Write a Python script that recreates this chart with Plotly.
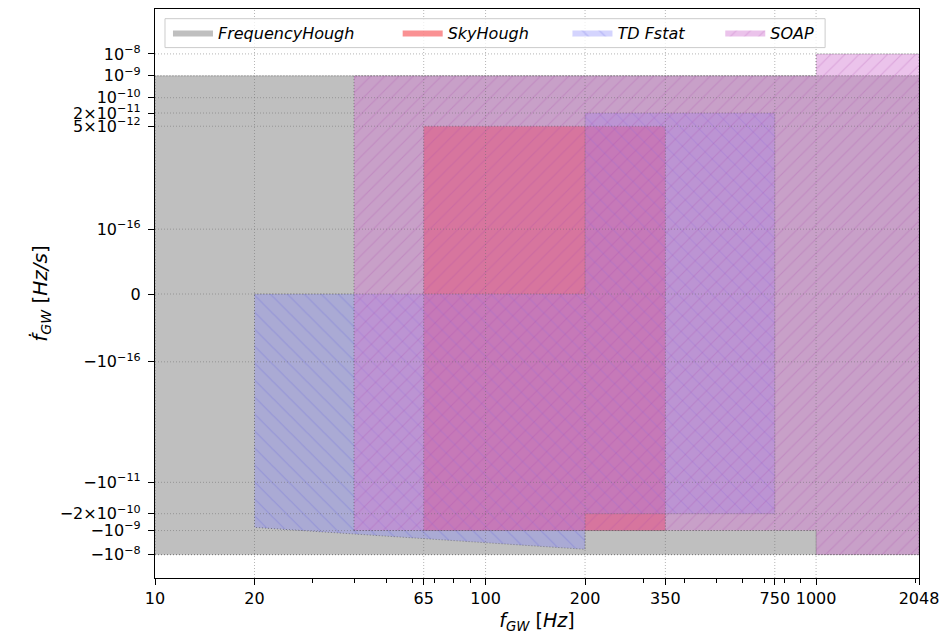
import math
import plotly.graph_objects as go

# ---------------- data ----------------
FH_F = [10, 2048, 2048, 10]
FH_FDOT = [-1e-8, -1e-8, 1e-9, 1e-9]

SKY_F = [65, 350, 350, 65]
SKY_FDOT = [-1e-9, -1e-9, 5e-12, 5e-12]

TD_F = [20, 200, 200, 750, 750, 200, 200, 20]
TD_FDOT = [0, 0, 2e-11, 2e-11, -2e-10, -2e-10, -6e-9, -7.4e-10]

SOAP_F = [40, 1000, 1000, 2048, 2048, 1000, 1000, 40]
SOAP_FDOT = [-1e-9, -1e-9, -1e-8, -1e-8, 1e-8, 1e-8, 1e-9, 1e-9]

X_TICKS = [10, 20, 65, 100, 200, 350, 750, 1000, 2048]
X_MINOR = [30, 40, 50, 60, 70, 80, 90, 300, 400, 500, 600, 700, 800, 900, 2000]
Y_TICKS = [1e-8, 1e-9, 1e-10, 2e-11, 5e-12, 1e-16, 0, -1e-16, -1e-11, -2e-10, -1e-9, -1e-8]
Y_TICKTEXT = ["10<sup>\u22128</sup>", "10<sup>\u22129</sup>", "10<sup>\u221210</sup>",
              "2\u00d710<sup>\u221211</sup>", "5\u00d710<sup>\u221212</sup>",
              "10<sup>\u221216</sup>", "0", "\u221210<sup>\u221216</sup>",
              "\u221210<sup>\u221211</sup>", "\u22122\u00d710<sup>\u221210</sup>",
              "\u221210<sup>\u22129</sup>", "\u221210<sup>\u22128</sup>"]

# ---------------- symmetric-log style y scale ----------------
LOGREF = -16.0
POS0, POS_DEC = 65.0, 21.96
NEG0, NEG_DEC = 68.0, 24.16


def tr(v):
    if v > 0:
        return POS0 + POS_DEC * (math.log10(v) - LOGREF)
    if v < 0:
        return -(NEG0 + NEG_DEC * (math.log10(-v) - LOGREF))
    return 0.0


Y_RANGE = [-284.7, 285.7]
FONT = "DejaVu Sans"
FS = 16

fig = go.Figure()

edge = dict(color="rgba(60,60,60,0.5)", width=1, dash="1px,2px")

regions = [
    ("FrequencyHough", FH_F, FH_FDOT, "rgba(128,128,128,0.5)", None, "legend"),
    ("SkyHough", SKY_F, SKY_FDOT, "rgba(245,35,40,0.5)", None, "legend2"),
    ("TD Fstat", TD_F, TD_FDOT, "rgba(130,130,250,0.35)",
     dict(shape="\\", fgcolor="rgb(90,90,220)", fgopacity=0.28,
          size=12, solidity=0.1, fillmode="overlay"), "legend3"),
    ("SOAP", SOAP_F, SOAP_FDOT, "rgba(211,122,211,0.45)",
     dict(shape="/", fgcolor="rgb(170,70,170)", fgopacity=0.25,
          size=10, solidity=0.1, fillmode="overlay"), "legend4"),
]

for name, fx, fy, col, pat, leg in regions:
    kw = dict(fillpattern=pat) if pat else {}
    fig.add_trace(go.Scatter(
        x=fx, y=[tr(v) for v in fy], fill="toself", mode="lines",
        fillcolor=col, line=dict(width=0, color="rgba(0,0,0,0)"), name=name,
        legend=leg, hoverinfo="skip", **kw))
    fig.add_trace(go.Scatter(
        x=fx + fx[:1], y=[tr(v) for v in fy + fy[:1]], mode="lines",
        line=edge, showlegend=False, hoverinfo="skip"))

# grid lines drawn above the filled regions
shapes = []
gridline = dict(color="rgba(110,110,110,0.5)", width=1, dash="1px,2px")
for xv in X_TICKS[1:-1]:
    shapes.append(dict(type="line", xref="x", yref="paper", x0=xv, x1=xv,
                       y0=0, y1=1, line=gridline, layer="above"))
for yv in Y_TICKS:
    shapes.append(dict(type="line", xref="paper", yref="y", x0=0, x1=1,
                       y0=tr(yv), y1=tr(yv), line=gridline, layer="above"))

# legend frame
L, R, T, B = 155, 920, 7.3, 577.7
W, H = R - L, B - T


def px(x):
    return (x - L) / W


def py(y):
    return (B - y) / H


shapes.append(dict(type="rect", xref="paper", yref="paper",
                   x0=px(165), x1=px(826), y0=py(46), y1=py(17),
                   fillcolor="rgba(255,255,255,0.8)",
                   line=dict(color="rgb(204,204,204)", width=1), layer="above"))

leg_common = dict(orientation="h", bgcolor="rgba(0,0,0,0)", borderwidth=0,
                  font=dict(family=FONT, size=FS, color="black", style="italic"),
                  yanchor="middle", xanchor="left", itemwidth=40,
                  itemsizing="constant")

fig.update_layout(
    width=947, height=644,
    margin=dict(l=L, r=947 - R, t=T, b=644 - B),
    paper_bgcolor="white", plot_bgcolor="white",
    font=dict(family=FONT, size=FS, color="black"),
    shapes=shapes,
    showlegend=True,
    legend=dict(x=px(168), y=py(31), **leg_common),
    legend2=dict(x=px(398), y=py(31), **leg_common),
    legend3=dict(x=px(568), y=py(31), **leg_common),
    legend4=dict(x=px(721), y=py(31), **leg_common),
    xaxis=dict(
        type="log", range=[math.log10(10), math.log10(2048)],
        tickmode="array", tickvals=X_TICKS, ticktext=[str(v) for v in X_TICKS],
        ticks="outside", ticklen=6, tickwidth=1, tickcolor="black",
        showgrid=False, zeroline=False,
        showline=True, linecolor="black", linewidth=1.3, mirror=True,
        minor=dict(tickmode="array", tickvals=X_MINOR, ticks="outside",
                   ticklen=3.5, tickwidth=1, tickcolor="black", showgrid=False),
        title=dict(text="<i>f</i><sub><i>GW</i></sub> [<i>Hz</i>]",
                   font=dict(family=FONT, size=19), standoff=6),
        layer="above traces",
    ),
    yaxis=dict(
        range=Y_RANGE, tickmode="array", tickvals=[tr(v) for v in Y_TICKS],
        ticktext=Y_TICKTEXT, ticklabelstandoff=4,
        ticks="outside", ticklen=6, tickwidth=1, tickcolor="black",
        showgrid=False, zeroline=False,
        showline=True, linecolor="black", linewidth=1.3, mirror=True,
        title=dict(text="<i>\u1e1f</i><sub><i>GW</i></sub> [<i>Hz/s</i>]",
                   font=dict(family=FONT, size=20), standoff=6),
        layer="above traces",
    ),
)

fig.write_html("out.html")
